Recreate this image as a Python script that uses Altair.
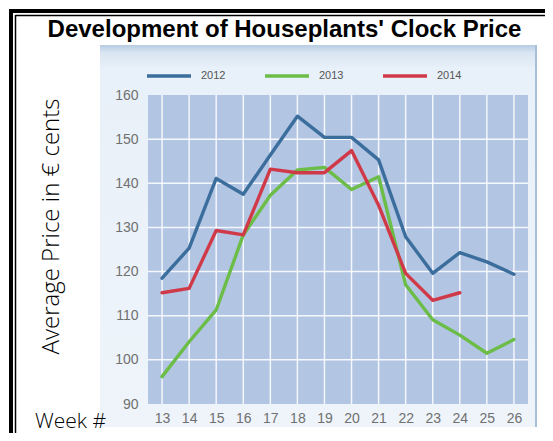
import altair as alt
import pandas as pd

weeks = list(range(13, 27))
price_2012 = [118.5, 125.3, 141.1, 137.5, 146.4, 155.2, 150.4, 150.4, 145.3, 127.9, 119.6, 124.3, 122.2, 119.4]
price_2013 = [96.2, 104.1, 111.3, 128.3, 137.3, 143.0, 143.6, 138.6, 141.5, 117.0, 109.1, 105.6, 101.5, 104.6]
price_2014 = [115.2, 116.2, 129.3, 128.3, 143.2, 142.4, 142.4, 147.4, 135.0, 119.6, 113.5, 115.2]
years = ["2012", "2013", "2014"]
year_colors = ["#3b6e9c", "#6cbd47", "#d03a48"]
y_ticks = [90, 100, 110, 120, 130, 140, 150, 160]
y_grid = [100, 110, 120, 130, 140, 150]
title_text = "Development of Houseplants' Clock Price"
y_title_text = "Average Price in € cents"
x_title_text = "Week #"

rows = []
for yr, vals in zip(years, [price_2012, price_2013, price_2014]):
    for w, v in zip(weeks, vals):
        rows.append({"week": w, "price": v, "year": yr})
df = pd.DataFrame(rows)
vgrid_df = pd.DataFrame({"week": weeks})
hgrid_df = pd.DataFrame({"price": y_grid})
one = pd.DataFrame({"k": [0]})

W, H = 380, 309
x_scale = alt.Scale(domain=[12.48, 26.52], nice=False, zero=False)
y_scale = alt.Scale(domain=[90, 160], nice=False, zero=False)
x_axis = alt.Axis(values=weeks, title=None, ticks=False, domain=False, grid=False,
                  labelPadding=7, labelFontSize=14, labelColor="#707070",
                  labelFont="Liberation Sans", labelFlush=False, zindex=1)
y_axis = alt.Axis(values=y_ticks, title=None, ticks=False, domain=False, grid=False,
                  labelPadding=10, labelFontSize=14, labelColor="#707070",
                  labelFont="Liberation Sans", labelFlush=False, zindex=1)

panel = alt.Chart(one).mark_rect(
    color=alt.Gradient(gradient="linear", x1=0, x2=0, y1=0, y2=1,
                       stops=[alt.GradientStop(offset=0, color="#b7cbe2"),
                              alt.GradientStop(offset=0.02, color="#d9e5f2"),
                              alt.GradientStop(offset=0.06, color="#e8f0f9"),
                              alt.GradientStop(offset=1, color="#eef4fa")])
).encode(x=alt.value(-48), x2=alt.value(389), y=alt.value(-50), y2=alt.value(332))

panel_edge = alt.Chart(one).mark_rule(color="#a8bfd8", strokeWidth=2).encode(
    x=alt.value(388), y=alt.value(-50), y2=alt.value(332))

plot_bg = alt.Chart(one).mark_rect(color="#b2c5e3").encode(
    x=alt.value(0), x2=alt.value(W), y=alt.value(0), y2=alt.value(H))

vgrid = alt.Chart(vgrid_df).mark_rule(color="white", strokeWidth=1.5, opacity=0.85).encode(
    x=alt.X("week:Q", scale=x_scale, axis=x_axis))
hgrid = alt.Chart(hgrid_df).mark_rule(color="white", strokeWidth=1.5, opacity=0.85).encode(
    y=alt.Y("price:Q", scale=y_scale, axis=y_axis))

lines = alt.Chart(df).mark_line(strokeWidth=3.4, strokeJoin="round", strokeCap="round").encode(
    x=alt.X("week:Q", scale=x_scale, axis=x_axis),
    y=alt.Y("price:Q", scale=y_scale, axis=y_axis),
    color=alt.Color("year:N", scale=alt.Scale(domain=years, range=year_colors),
                    legend=alt.Legend(title=None, orient="none", legendX=-3, legendY=-43,
                                      direction="horizontal", symbolType="stroke",
                                      symbolSize=1936, symbolStrokeWidth=3.5,
                                      labelFontSize=11, labelColor="#555555",
                                      labelFont="Liberation Sans", labelOffset=8,
                                      columnPadding=32, padding=0)),
)

title = alt.Chart(one).mark_text(text=title_text, font="Liberation Sans", fontWeight="bold",
                                 fontSize=24, align="center", baseline="alphabetic",
                                 color="black").encode(x=alt.value(136.5), y=alt.value(-58))
y_title = alt.Chart(one).mark_text(text=y_title_text, font="Open Sans", fontWeight=300,
                                   fontSize=24, angle=270, align="center",
                                   baseline="alphabetic", color="black").encode(
    x=alt.value(-89), y=alt.value(131.5))
x_title = alt.Chart(one).mark_text(text=x_title_text, font="Open Sans", fontWeight=300,
                                   fontSize=21, align="left", baseline="alphabetic",
                                   color="black").encode(x=alt.value(-113), y=alt.value(333))

thick_v = alt.Chart(one).mark_rule(color="black", strokeWidth=4).encode(
    x=alt.value(-137), y=alt.value(-86), y2=alt.value(350))
thick_h = alt.Chart(one).mark_rule(color="black", strokeWidth=4).encode(
    x=alt.value(-139), x2=alt.value(420), y=alt.value(-84))
thin_v = alt.Chart(one).mark_rule(color="black", strokeWidth=1.5).encode(
    x=alt.value(-132.5), y=alt.value(-80), y2=alt.value(350))
thin_h = alt.Chart(one).mark_rule(color="black", strokeWidth=1.5).encode(
    x=alt.value(-132.5), x2=alt.value(420), y=alt.value(-79.5))

chart = alt.layer(
    panel, panel_edge, plot_bg, vgrid, hgrid, lines, title, y_title, x_title,
    thick_v, thick_h, thin_v, thin_h
).properties(
    width=W, height=H,
    padding={"left": 140, "top": 87, "right": 17, "bottom": 29},
    autosize=alt.AutoSizeParams(type="none"),
    background="white",
).configure_view(stroke=None)

chart.save("out.html", embed_options={"renderer": "svg", "actions": False})
